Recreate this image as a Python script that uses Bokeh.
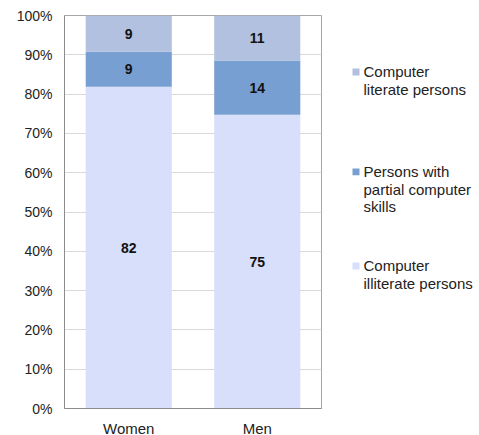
from bokeh.plotting import figure
from bokeh.models import ColumnDataSource, FactorRange, Range1d, FixedTicker, PrintfTickFormatter
from bokeh.layouts import row
from bokeh.core.properties import value
from bokeh.embed import file_html
from bokeh.resources import INLINE

# ---- data ----
categories = ["Women", "Men"]
series = ["Computer illiterate persons", "Persons with partial computer skills", "Computer literate persons"]
illiterate = [81.9, 74.6]
partial = [8.9, 13.8]
literate = [9.2, 11.4]
y_ticks = [0, 10, 20, 30, 40, 50, 60, 70, 80, 90, 100]

colors = ["#D7DFFB", "#789FD1", "#B1C1DF"]
FONT = "Liberation Sans"

# normalise to 100 % stacked
totals = [a + b + c for a, b, c in zip(illiterate, partial, literate)]
raw = [illiterate, partial, literate]
pct = [[v / t * 100 for v, t in zip(s, totals)] for s in raw]
keys = ["ill", "par", "lit"]
data = {"cat": categories}
for k, s in zip(keys, pct):
    data[k] = s
src = ColumnDataSource(data)

p = figure(x_range=FactorRange(*categories), y_range=Range1d(0, 100),
           frame_width=257, frame_height=393, output_backend="svg",
           toolbar_location=None, min_border_left=64, min_border_top=15,
           min_border_right=20, min_border_bottom=27)
p.vbar_stack(keys, x="cat", width=0.67, color=colors, line_color=None, source=src)

# value labels
lx, ly, lt = [], [], []
for i, c in enumerate(categories):
    base = 0
    for s, r in zip(pct, raw):
        lx.append(c)
        ly.append(base + s[i] / 2)
        lt.append(f"{r[i]:.0f}")
        base += s[i]
p.text(x=lx, y=ly, text=lt, text_align="center", text_baseline="middle",
       text_font=value(FONT), text_font_style="bold", text_font_size="14px",
       text_color="#111111")

p.outline_line_color = "#A6A6A6"
p.xgrid.grid_line_color = None
p.ygrid.grid_line_color = "#D9D9D9"
p.yaxis.ticker = FixedTicker(ticks=y_ticks)
p.yaxis.formatter = PrintfTickFormatter(format="%d%%")
for ax in (p.xaxis[0], p.yaxis[0]):
    ax.axis_line_color = "#8C8C8C"
    ax.major_tick_line_color = None
    ax.minor_tick_line_color = None
    ax.major_tick_out = 0
    ax.major_tick_in = 0
    ax.major_label_text_font = FONT
    ax.major_label_text_color = "#222222"
p.yaxis.major_label_text_font_size = "14px"
p.yaxis.major_label_standoff = 12
p.xaxis.major_label_text_font_size = "15px"
p.xaxis.major_label_standoff = 11
p.background_fill_color = "white"

# ---- legend panel (frame aligned with main frame: page y 15..408) ----
lg = figure(width=138, height=435, x_range=Range1d(0, 138), y_range=Range1d(408, 15),
            output_backend="svg", toolbar_location=None,
            min_border_left=0, min_border_right=0, min_border_top=15, min_border_bottom=27)
lg.axis.visible = False
lg.grid.visible = False
lg.outline_line_color = None

legend_lines = [[" Computer", "literate persons"],
                [" Persons with", "partial computer", "skills"],
                [" Computer", "illiterate persons"]]
legend_y = [72, 173, 268]
legend_colors = [colors[2], colors[1], colors[0]]
lg.rect(x=[14.5] * 3, y=legend_y, width=7, height=7, color=legend_colors, line_color=None)
tx, ty, tt = [], [], []
for lines, y0 in zip(legend_lines, legend_y):
    for j, ln in enumerate(lines):
        tx.append(22)
        ty.append(y0 + j * 17.5)
        tt.append(ln)
lg.text(x=tx, y=ty, text=tt, text_align="left", text_baseline="middle",
        text_font=value(FONT), text_font_size="15px", text_color="#222222")

layout = row(p, lg)
open("out.html", "w").write(file_html(layout, INLINE))
